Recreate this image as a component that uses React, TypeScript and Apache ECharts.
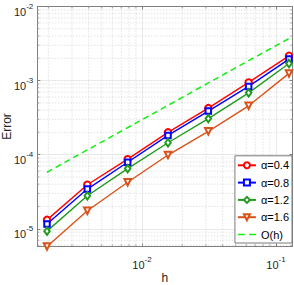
import { useEffect, useRef } from 'react';
import * as echarts from 'echarts';

// ---- data ----
const hValues = [1 / 512, 1 / 256, 1 / 128, 1 / 64, 1 / 32, 1 / 16, 1 / 8];
const err04 = [1.32e-5, 3.93e-5, 8.7e-5, 2.0e-4, 4.25e-4, 9.45e-4, 2.16e-3];
const err08 = [1.16e-5, 3.44e-5, 7.9e-5, 1.82e-4, 3.88e-4, 8.34e-4, 1.95e-3];
const err12 = [9.3e-6, 2.79e-5, 6.5e-5, 1.45e-4, 3.07e-4, 6.84e-4, 1.7e-3];
const err16 = [5.77e-6, 1.75e-5, 4.25e-5, 9.9e-5, 2.07e-4, 4.57e-4, 1.25e-3];
const refOh = [5.8e-5, 1.16e-4, 2.32e-4, 4.63e-4, 9.3e-4, 1.86e-3, 3.7e-3];
const seriesNames = ['α=0.4', 'α=0.8', 'α=1.2', 'α=1.6', 'O(h)'];

const xMin = 1.653e-3;
const xMax = 0.1328;
const yMin = 5.77e-6;
const yMax = 1e-2;

const xMinorTicks = [
  0.002, 0.003, 0.004, 0.005, 0.006, 0.007, 0.008, 0.009,
  0.02, 0.03, 0.04, 0.05, 0.06, 0.07, 0.08, 0.09,
];
const yMinorTicks = [
  6e-6, 7e-6, 8e-6, 9e-6,
  2e-5, 3e-5, 4e-5, 5e-5, 6e-5, 7e-5, 8e-5, 9e-5,
  2e-4, 3e-4, 4e-4, 5e-4, 6e-4, 7e-4, 8e-4, 9e-4,
  2e-3, 3e-3, 4e-3, 5e-3, 6e-3, 7e-3, 8e-3, 9e-3,
];

const FONT = '"Liberation Sans", Arial, Helvetica, sans-serif';
const TXT = '#262626';
const AXIS = '#808080';

function powLabel(v: number): string {
  const e = Math.log10(v);
  const r = Math.round(e);
  if (Math.abs(e - r) > 1e-6) return '';
  return `{b|10}{s|${r}}`;
}

const richLabels = {
  b: { fontSize: 11, fontFamily: FONT, color: TXT, lineHeight: 18 },
  s: { fontSize: 8, fontFamily: FONT, color: TXT, lineHeight: 8, verticalAlign: 'top' },
};

function lineSeries(name: string, vals: number[], color: string, symbol: string, size: any, rotate = 0) {
  return {
    name,
    type: 'line',
    data: hValues.map((h, i) => [h, vals[i]]),
    symbol,
    symbolSize: size,
    symbolRotate: rotate,
    clip: false,
    z: 3,
    lineStyle: { color, width: 1.4 },
    itemStyle: { color, borderColor: color, borderWidth: 1 },
    emphasis: { disabled: true },
  };
}

export default function App() {
  const ref = useRef<HTMLDivElement>(null);
  useEffect(() => {
    if (!ref.current) return;
    const chart = echarts.init(ref.current, undefined, { renderer: 'svg' });

    const minorX = {
      type: 'custom',
      silent: true,
      z: 1,
      clip: false,
      data: xMinorTicks.map((v) => [v, yMin]),
      renderItem: (params: any, api: any) => {
        const cs = params.coordSys;
        const x = api.coord([api.value(0), api.value(1)])[0];
        const top = cs.y;
        const bot = cs.y + cs.height;
        return {
          type: 'group',
          children: [
            { type: 'line', shape: { x1: x, y1: top, x2: x, y2: bot }, style: { stroke: '#c4c4c4', lineWidth: 0.7, lineDash: [1, 2] } },
            { type: 'line', shape: { x1: x, y1: bot, x2: x, y2: bot - 2 }, style: { stroke: AXIS, lineWidth: 0.8 } },
            { type: 'line', shape: { x1: x, y1: top, x2: x, y2: top + 2 }, style: { stroke: AXIS, lineWidth: 0.8 } },
          ],
        };
      },
    };
    const minorY = {
      type: 'custom',
      silent: true,
      z: 1,
      clip: false,
      data: yMinorTicks.map((v) => [xMin, v]),
      renderItem: (params: any, api: any) => {
        const cs = params.coordSys;
        const y = api.coord([api.value(0), api.value(1)])[1];
        const left = cs.x;
        const right = cs.x + cs.width;
        return {
          type: 'group',
          children: [
            { type: 'line', shape: { x1: left, y1: y, x2: right, y2: y }, style: { stroke: '#c4c4c4', lineWidth: 0.7, lineDash: [1, 2] } },
            { type: 'line', shape: { x1: left, y1: y, x2: left + 2, y2: y }, style: { stroke: AXIS, lineWidth: 0.8 } },
            { type: 'line', shape: { x1: right, y1: y, x2: right - 2, y2: y }, style: { stroke: AXIS, lineWidth: 0.8 } },
          ],
        };
      },
    };

    const baseAxis = {
      type: 'log',
      logBase: 10,
      axisLine: { show: true, lineStyle: { color: AXIS, width: 1 } },
      axisTick: { show: true, inside: true, length: 3, lineStyle: { color: AXIS } },
    };

    chart.setOption({
      animation: false,
      backgroundColor: '#ffffff',
      textStyle: { fontFamily: FONT },
      grid: { left: 37.3, right: 1.5, top: 6.5, bottom: 38.5, containLabel: false, outerBoundsMode: 'none' },
      xAxis: [
        {
          ...baseAxis,
          min: xMin,
          max: xMax,
          position: 'bottom',
          name: 'h',
          nameLocation: 'middle',
          nameGap: 25,
          nameMoveOverlap: false,
          nameTextStyle: { fontSize: 12, lineHeight: 12, color: TXT, fontFamily: FONT },
          axisLabel: { margin: 9, formatter: powLabel, rich: richLabels, showMinLabel: true, showMaxLabel: true },
          splitLine: { show: true, lineStyle: { color: '#e3e3e3', width: 0.8 } },
        },
        {
          ...baseAxis,
          min: xMin,
          max: xMax,
          position: 'top',
          axisLabel: { show: false },
          splitLine: { show: false },
        },
      ],
      yAxis: [
        {
          ...baseAxis,
          min: yMin,
          max: yMax,
          position: 'left',
          name: 'Error',
          nameLocation: 'middle',
          nameGap: 24,
          nameMoveOverlap: false,
          nameTextStyle: { fontSize: 12, color: TXT, fontFamily: FONT },
          axisLabel: { margin: 4, formatter: powLabel, rich: richLabels, padding: [10, 0, 0, 0] },
          splitLine: { show: true, lineStyle: { color: '#e3e3e3', width: 0.8 } },
        },
        {
          ...baseAxis,
          min: yMin,
          max: yMax,
          position: 'right',
          axisLabel: { show: false },
          splitLine: { show: false },
        },
      ],
      legend: {
        data: [
          { name: seriesNames[0] },
          { name: seriesNames[1] },
          { name: seriesNames[2] },
          { name: seriesNames[3] },
          { name: seriesNames[4], icon: 'path://M0,0h6v1.5h-6z M10,0h6v1.5h-6z' },
        ],
        orient: 'vertical',
        right: 2,
        bottom: 42,
        itemWidth: 18,
        itemHeight: 7.5,
        itemGap: 4.3,
        padding: [3, 3, 2, 2],
        backgroundColor: '#ffffff',
        borderColor: '#7a7a7a',
        borderWidth: 1,
        borderRadius: 0,
        textStyle: { fontSize: 11, color: '#000000', fontFamily: FONT, lineHeight: 13 },
        selectedMode: false,
      },
      series: [
        minorX,
        minorY,
        lineSeries(seriesNames[0], err04, '#ff0000', 'emptyCircle', 6.5),
        lineSeries(seriesNames[1], err08, '#0000ff', 'emptyRect', 5.5),
        lineSeries(seriesNames[2], err12, '#1f9a1f', 'emptyDiamond', [5.5, 7.5]),
        lineSeries(seriesNames[3], err16, '#d95319', 'emptyTriangle', 6.5, 180),
        {
          name: seriesNames[4],
          type: 'line',
          data: hValues.map((h, i) => [h, refOh[i]]),
          symbol: 'none',
          z: 3,
          lineStyle: { color: '#11ee11', width: 1.5, type: [6, 4] },
          itemStyle: { color: '#11ee11' },
          emphasis: { disabled: true },
        },
      ],
    });
    return () => chart.dispose();
  }, []);

  return (
    <div
      ref={ref}
      style={{ position: 'fixed', left: 0, top: 0, width: 294, height: 285, background: '#fff' }}
    />
  );
}
